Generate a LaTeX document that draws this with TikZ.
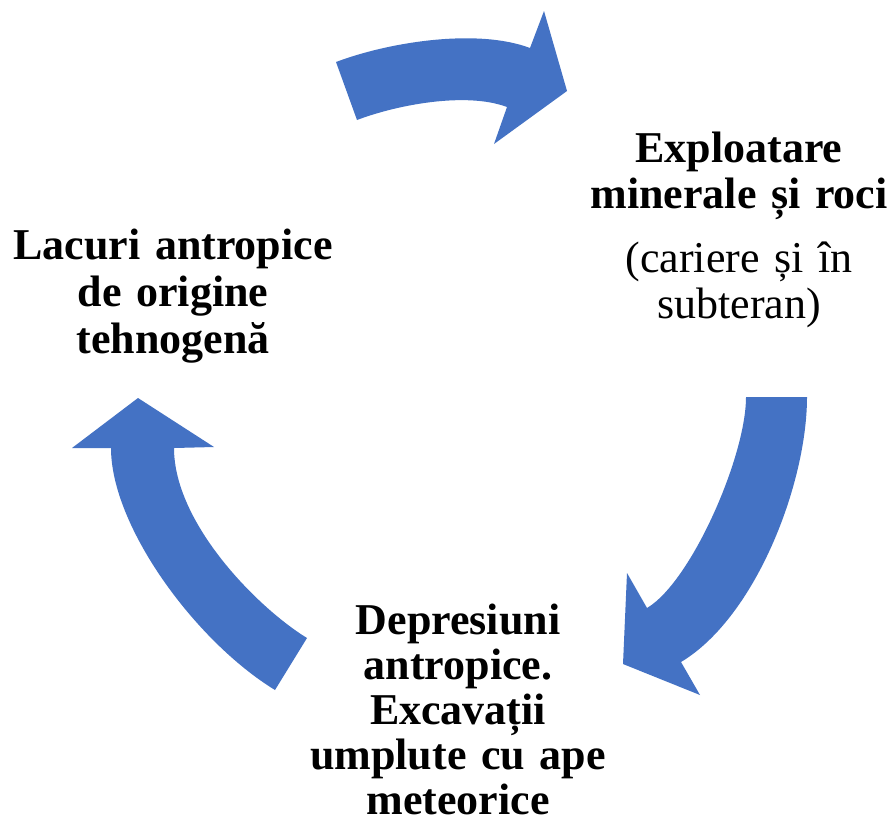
\documentclass[tikz,border=0pt]{standalone}
\usepackage{fontspec}
\setmainfont{Liberation Serif}
\definecolor{accentblue}{HTML}{4472C4}
\begin{document}
\begin{tikzpicture}[x=1pt,y=-1pt,
  cyclearrow/.style={fill=accentblue},
  lbl/.style={font={\fontsize{44}{46}\selectfont\lineskiplimit=-30pt\bfseries},
              align=center, text width=360pt, inner sep=0pt, anchor=base}]
\useasboundingbox[fill=white] (0,0) rectangle (890,825);

% top arrow
\fill[cyclearrow] (336,62) .. controls (389,42) and (477,28) .. (530,48)
  -- (544,11) -- (567,91) -- (494,144) -- (507,107)
  .. controls (466.4,91.7) and (397.6,104.6) .. (357,120) -- cycle;

% right arrow
\fill[cyclearrow] (807,397) .. controls (807,483) and (756,617) .. (681,662)
  -- (700,695) -- (623,664) -- (627,573) -- (647,608)
  .. controls (691,582) and (746,456.5) .. (746,397) -- cycle;

% left arrow
\fill[cyclearrow] (307,638) -- (275,690)
  .. controls (195,641) and (111,526) .. (111,448)
  -- (72,448) -- (138,398) -- (214,447) -- (174,448)
  .. controls (174,523.5) and (258,608) .. (307,638) -- cycle;

\node[lbl] (expl) at (739,162) {Exploatare\\minerale și roci\\[18pt]\mdseries (cariere și în\\subteran)};
\node[lbl, font={\fontsize{44}{47}\selectfont\lineskiplimit=-30pt\bfseries}] (lacuri) at (173,259) {Lacuri antropice\\de origine\\tehnogenă};
\node[lbl, font={\fontsize{44}{45}\selectfont\lineskiplimit=-30pt\bfseries}] (depr) at (458,634) {Depresiuni\\antropice.\\Excavații\\umplute cu ape\\meteorice};
\end{tikzpicture}
\end{document}
